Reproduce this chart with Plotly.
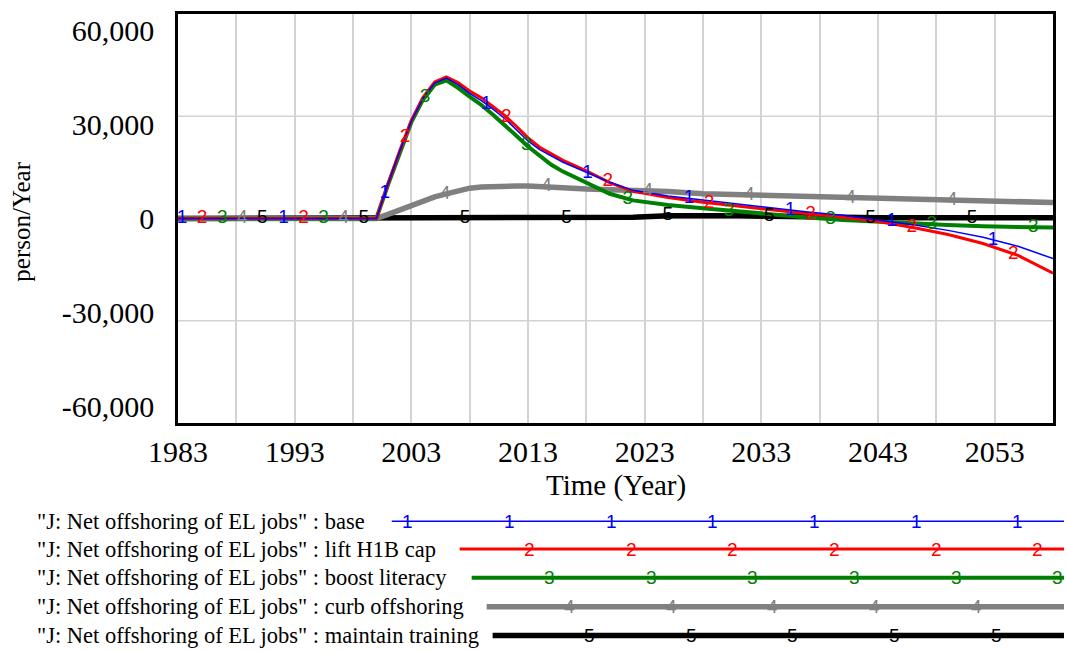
import numpy as np
import plotly.graph_objects as go

# ---------------- data ----------------
years = [1983, 2000, 2001, 2002, 2003, 2004, 2005, 2006, 2007, 2008, 2009, 2010,
         2011, 2012, 2013, 2014, 2015, 2016, 2018, 2020, 2022, 2025, 2028, 2031,
         2034, 2037, 2040, 2043, 2046, 2049, 2052, 2055, 2058]

base = [0, 0, 11000, 21500, 31200, 38500, 43300, 44900, 42800, 40000, 37700, 35000,
        32000, 28400, 24800, 22000, 19900, 18000, 14800, 11600, 9000, 7200, 5900, 4600,
        3200, 2100, 1000, -400, -2000, -3800, -6000, -8900, -12800]

lift_h1b_cap = [0, 0, 11000, 21600, 31400, 38800, 43700, 45300, 43500, 40800, 38600, 35900,
                33000, 29500, 25800, 22800, 20600, 18600, 15200, 11500, 8700, 6700, 5200, 3900,
                2700, 1500, 400, -1000, -2900, -5100, -8000, -11800, -17500]

boost_literacy = [0, 0, 10800, 21000, 30800, 38000, 42800, 44200, 41800, 39000, 36300, 33200,
                  30000, 26500, 23000, 20000, 17200, 15000, 11500, 7900, 5800, 4300, 3300, 2200,
                  1100, 300, -500, -1100, -1700, -2100, -2500, -2800, -2900]

curb_offshoring = [0, 0, 1300, 2800, 4100, 5600, 6900, 7900, 8900, 9700, 10100, 10300,
                   10400, 10400, 10400, 10300, 10100, 9800, 9400, 9200, 9000, 8600, 7900, 7600,
                   7400, 7000, 6600, 6400, 6200, 5800, 5400, 5200, 5100]

maintain_training = [0, 0, 0, 0, 0, 0, 0, 0, 0, 0, 0, 0,
                     0, 0, 0, 0, 0, 0, 100, 200, 400, 900, 1000, 900,
                     700, 400, 200, 200, 200, 200, 200, 200, 200]

series_names = ["base", "lift H1B cap", "boost literacy", "curb offshoring", "maintain training"]
series_values = [base, lift_h1b_cap, boost_literacy, curb_offshoring, maintain_training]
legend_prefix = '"J: Net offshoring of EL jobs" : '

x_tick_labels = ["1983", "1993", "2003", "2013", "2023", "2033", "2043", "2053"]
y_tick_values = [60000, 30000, 0, -30000, -60000]
y_tick_labels = ["60,000", "30,000", "0", "-30,000", "-60,000"]

# ---------------- styling ----------------
colors = ["#0000FF", "#FF0000", "#008000", "#808080", "#000000"]
widths = [1.5, 3, 4, 5.5, 5.5]
X0, X1 = 1983, 2058
Y_HALF = 65400
SERIF = "Liberation Serif, Times New Roman, serif"
SANS = "Liberation Sans, Arial, sans-serif"

W, H = 1067, 652
L, R, T, B = 178, 13, 11, 652 - 423
PW, PH = W - L - R, H - T - B


def px_x(p):
    return (p - L) / PW


def px_y(p):
    return (H - B - p) / PH


fig = go.Figure()

# lines: last series drawn first (bottom), first series on top
for s in reversed(range(5)):
    fig.add_trace(go.Scatter(x=years, y=series_values[s], mode="lines",
                             line=dict(color=colors[s], width=widths[s]),
                             showlegend=False, hoverinfo="skip"))

# numbered markers along each line
first, step, offset = 1983.35, 8.69, 1.72
for s in reversed(range(5)):
    xs = []
    k = 0
    while True:
        xv = first + s * offset + k * step
        if xv > 2057.2:
            break
        xs.append(xv)
        k += 1
    ys = np.interp(xs, years, series_values[s])
    fig.add_trace(go.Scatter(x=xs, y=ys, mode="text", text=[str(s + 1)] * len(xs),
                             textposition="middle center",
                             textfont=dict(family=SANS, size=19, color=colors[s]),
                             showlegend=False, hoverinfo="skip"))

shapes = []
# horizontal gridlines at quarters
for q in (0.25, 0.5, 0.75):
    shapes.append(dict(type="line", xref="paper", yref="paper", x0=0, x1=1, y0=q, y1=q,
                       line=dict(color="#d3d3d3", width=1.5), layer="below"))

annotations = []
# axis titles
annotations.append(dict(text="Time (Year)", xref="paper", yref="paper",
                        x=px_x(616), y=px_y(486), showarrow=False,
                        xanchor="center", yanchor="middle",
                        font=dict(family=SERIF, size=29, color="black")))
annotations.append(dict(text="person/Year", xref="paper", yref="paper",
                        x=px_x(21), y=px_y(220), showarrow=False, textangle=-90,
                        xanchor="center", yanchor="middle",
                        font=dict(family=SERIF, size=25, color="black")))

# custom legend
row_y = [522, 550, 579, 608, 637]
line_start = [392, 460, 472, 487, 493]
line_end = 1065
for s in range(5):
    yp = px_y(row_y[s])
    annotations.append(dict(text=legend_prefix + series_names[s], xref="paper", yref="paper",
                            x=px_x(35), y=yp, showarrow=False, xanchor="left",
                            yanchor="middle",
                            font=dict(family=SERIF, size=22.5, color="black")))
    shapes.append(dict(type="line", xref="paper", yref="paper",
                       x0=px_x(line_start[s]), x1=px_x(line_end), y0=yp, y1=yp,
                       line=dict(color=colors[s], width=widths[s])))
    k = 0
    while True:
        p = 408 + 20 * s + 101.8 * k
        if p > 1064:
            break
        if p >= line_start[s] + 8:
            annotations.append(dict(text=str(s + 1), xref="paper", yref="paper",
                                    x=px_x(p), y=yp, showarrow=False,
                                    xanchor="center", yanchor="middle",
                                    font=dict(family=SANS, size=19, color=colors[s])))
        k += 1

x_tickvals = list(range(X0, X1, 5))
x_ticktext = [x_tick_labels[i // 2] if i % 2 == 0 else "" for i in range(len(x_tickvals))]

fig.update_layout(
    width=W, height=H,
    margin=dict(l=L, r=R, t=T, b=B, pad=0),
    paper_bgcolor="white", plot_bgcolor="white",
    showlegend=False,
    shapes=shapes, annotations=annotations,
    xaxis=dict(range=[X0, X1], tickvals=x_tickvals, ticktext=x_ticktext,
               showgrid=True, gridcolor="#d3d3d3", gridwidth=1.5,
               zeroline=False, showline=True, mirror=True, linecolor="black", linewidth=2.5,
               ticks="", ticklabelstandoff=0,
               tickfont=dict(family=SERIF, size=30, color="black")),
    yaxis=dict(range=[-Y_HALF, Y_HALF], tickvals=y_tick_values, ticktext=y_tick_labels,
               showgrid=False, zeroline=False, showline=True, mirror=True,
               linecolor="black", linewidth=2.5, ticks="", ticklabelstandoff=15,
               tickfont=dict(family=SERIF, size=30, color="black")),
)

fig.write_html("out.html", config={"displayModeBar": False},
               post_script="document.body.style.margin='0';document.body.style.overflow='hidden';")
